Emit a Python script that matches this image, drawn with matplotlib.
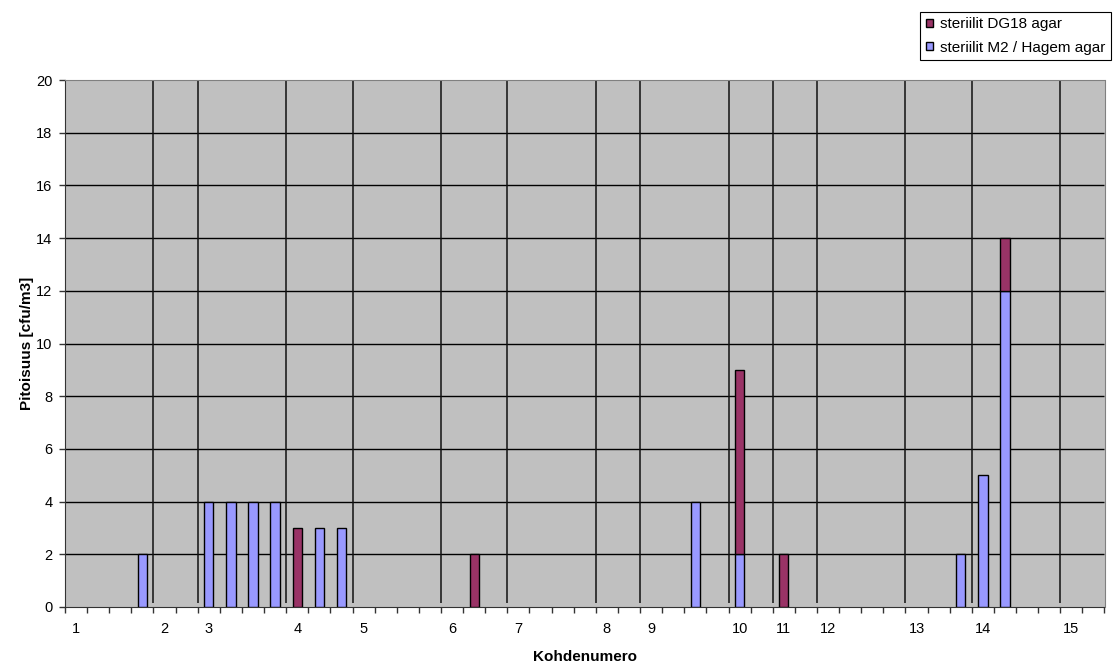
import numpy as np
import matplotlib
matplotlib.use('Agg')
import matplotlib.pyplot as plt

plt.rcParams['font.family'] = ['Liberation Sans', 'DejaVu Sans']

# one entry per sampling point (47 in total)
m2_hagem = [0, 0, 0, 2, 0, 0, 4, 4, 4, 4,
            0, 3, 3, 0, 0, 0, 0, 0, 0, 0,
            0, 0, 0, 0, 0, 0, 0, 0, 4, 0,
            2, 0, 0, 0, 0, 0, 0, 0, 0, 0,
            2, 5, 12, 0, 0, 0, 0]
dg18 = [0, 0, 0, 0, 0, 0, 0, 0, 0, 0,
        3, 0, 0, 0, 0, 0, 0, 0, 2, 0,
        0, 0, 0, 0, 0, 0, 0, 0, 0, 0,
        7, 0, 2, 0, 0, 0, 0, 0, 0, 0,
        0, 0, 2, 0, 0, 0, 0]

# first sample index of each site and its number
site_starts = [0, 4, 6, 10, 13, 17, 20, 24, 26, 30, 32, 34, 38, 41, 45]
site_labels = ['1', '2', '3', '4', '5', '6', '7', '8', '9', '10',
               '11', '12', '13', '14', '15']

m2 = np.array(m2_hagem, dtype=float)
dg = np.array(dg18, dtype=float)
x = np.arange(len(m2))

W, H = 1118, 664
fig = plt.figure(figsize=(W / 100, H / 100), dpi=100)
ax = fig.add_axes([65 / W, 57 / H, 1039.5 / W, 527 / H])
ax.set_facecolor('#C0C0C0')

bw = 0.42
m = m2 > 0
h_m2 = ax.bar(x[m], m2[m], width=bw, color='#9999FF', edgecolor='black',
              linewidth=1, zorder=3)
d = dg > 0
h_dg = ax.bar(x[d], dg[d], bottom=m2[d], width=bw, color='#993366',
              edgecolor='black', linewidth=1, zorder=3)

ax.set_xlim(-0.5, len(m2) - 0.5)
ax.set_ylim(0, 20)

# horizontal gridlines and site separators
ax.hlines(range(2, 20, 2), -0.5, len(m2) - 0.5, color='black', lw=1, zorder=1)
ax.vlines(np.array(site_starts[1:]) - 0.5, 0.15, 20, color='#111111', lw=1.1, zorder=2)

ax.set_yticks(range(0, 21, 2))
ax.tick_params(axis='y', length=4, width=1, pad=5, labelsize=10.5, color='#333333')

ax.set_xticks(np.arange(-0.5, len(m2), 1))
ax.set_xticklabels([])
ax.tick_params(axis='x', which='major', length=4, width=1, color='#333333')
ax.set_xticks(site_starts, minor=True)
ax.set_xticklabels(site_labels, minor=True)
ax.tick_params(axis='x', which='minor', length=0, pad=11, labelsize=10.5)

for side in ['top', 'right']:
    ax.spines[side].set_color('#808080')
ax.spines['left'].set_color('#333333')
ax.spines['bottom'].set_color('#333333')

fig.text(585 / W, 1 - 657 / H, 'Kohdenumero', ha='center', va='center',
         fontsize=11, fontweight='bold')
fig.text(27 / W, 1 - 343.5 / H, 'Pitoisuus [cfu/m3]', ha='center', va='center',
         rotation=90, fontsize=11, fontweight='bold')

leg = fig.legend([h_dg, h_m2], ['steriilit DG18 agar', 'steriilit M2 / Hagem agar'],
                 loc='upper right', bbox_to_anchor=(1111 / W, 1 - 12 / H),
                 frameon=True, fancybox=False, edgecolor='black', framealpha=1,
                 fontsize=11, handlelength=0.5, handleheight=0.5,
                 handletextpad=0.45, labelspacing=0.6, borderpad=0.35,
                 borderaxespad=0)
leg.get_frame().set_linewidth(0.8)

fig.savefig('out.png', dpi=100)
